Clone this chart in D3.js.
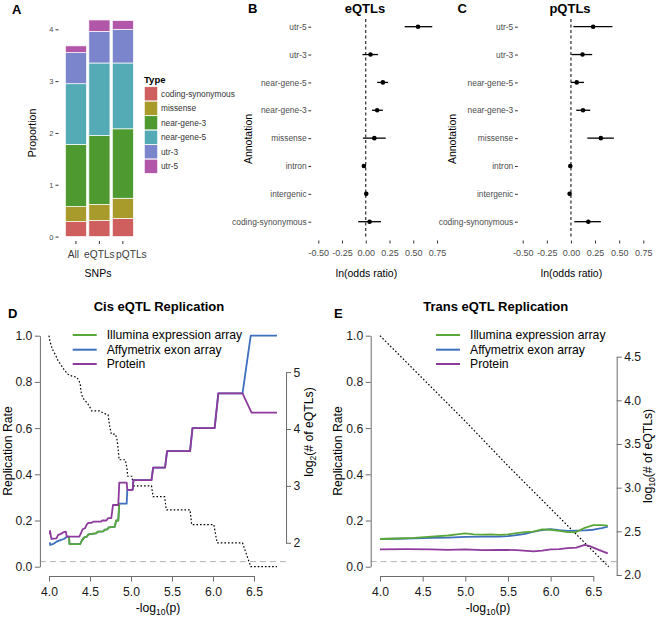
<!DOCTYPE html>
<html><head><meta charset="utf-8">
<script src="https://cdn.jsdelivr.net/npm/d3@7"></script>
<style>
html,body{margin:0;padding:0;background:#fff;}
svg{display:block;font-family:"Liberation Sans",Arial,Helvetica,sans-serif;}
</style></head><body>
<svg id="chart" width="661" height="621"></svg>
<script>
// ---------------- Panel A data ----------------
const snpGroups = ["All", "eQTLs", "pQTLs"];
const annotTypes = ["coding-synonymous", "missense", "near-gene-3", "near-gene-5", "utr-3", "utr-5"];
const propAll  = [0.29, 0.29, 1.20, 1.17, 0.60, 0.13];
const propEqtl = [0.31, 0.31, 1.33, 1.40, 0.61, 0.22];
const propPqtl = [0.35, 0.39, 1.34, 1.27, 0.65, 0.17];
const propTicks = [0, 1, 2, 3, 4];

// ---------------- Panels B / C data ----------------
const annotations = ["utr-5", "utr-3", "near-gene-5", "near-gene-3", "missense", "intron", "intergenic", "coding-synonymous"];
const eqtlEst = [0.55, 0.05, 0.18, 0.12, 0.09, -0.02, 0.005, 0.04];
const eqtlLo  = [0.41, -0.035, 0.12, 0.065, -0.03, -0.03, -0.005, -0.08];
const eqtlHi  = [0.70, 0.13, 0.235, 0.18, 0.21, -0.01, 0.015, 0.16];
const pqtlEst = [0.23, 0.12, 0.06, 0.125, 0.31, -0.007, -0.014, 0.18];
const pqtlLo  = [0.025, 0.005, 0.0, 0.055, 0.17, -0.015, -0.022, 0.035];
const pqtlHi  = [0.43, 0.22, 0.135, 0.20, 0.445, 0.0, -0.006, 0.31];
const orTicks = [-0.5, -0.25, 0, 0.25, 0.5, 0.75];
const orTickLabels = ["-0.50", "-0.25", "0.00", "0.25", "0.50", "0.75"];

// ---------------- Panel D data (x = -log10 p) ----------------
const seriesNames = ["Illumina expression array", "Affymetrix exon array", "Protein"];
const cisIllumina = [[4.244,0.13],[4.25,0.098],[4.38,0.098],[4.40,0.113],[4.43,0.127],[4.46,0.13],[4.48,0.14],[4.57,0.144],[4.60,0.152],[4.66,0.153],[4.68,0.16],[4.71,0.162],[4.73,0.17],[4.80,0.172],[4.82,0.20],[4.845,0.20],[4.857,0.273]];
const cisAffy = [[4.01,0.105],[4.015,0.094],[4.03,0.096],[4.06,0.10],[4.10,0.11],[4.14,0.115],[4.18,0.12],[4.22,0.13],[4.244,0.13],[4.25,0.098],[4.38,0.098],[4.40,0.113],[4.43,0.127],[4.46,0.13],[4.48,0.14],[4.57,0.144],[4.60,0.152],[4.66,0.153],[4.68,0.16],[4.71,0.162],[4.73,0.17],[4.80,0.172],[4.82,0.20],[4.845,0.20],[4.857,0.273],[4.947,0.273],[4.955,0.333],[5.02,0.333],[5.03,0.375],[5.25,0.375],[5.27,0.429],[5.415,0.429],[5.44,0.50],[5.72,0.50],[5.75,0.60],[6.02,0.60],[6.065,0.75],[6.36,0.75],[6.46,1.0],[6.78,1.0]];
const cisProtein = [[4.01,0.14],[4.012,0.155],[4.03,0.12],[4.09,0.123],[4.11,0.137],[4.155,0.144],[4.18,0.15],[4.205,0.152],[4.216,0.13],[4.37,0.13],[4.39,0.145],[4.41,0.162],[4.44,0.167],[4.46,0.182],[4.48,0.19],[4.52,0.19],[4.54,0.195],[4.63,0.195],[4.65,0.20],[4.70,0.20],[4.72,0.21],[4.76,0.21],[4.78,0.267],[4.845,0.267],[4.857,0.364],[4.947,0.364],[4.955,0.333],[5.02,0.333],[5.03,0.375],[5.25,0.375],[5.27,0.429],[5.415,0.429],[5.44,0.50],[5.72,0.50],[5.75,0.60],[6.02,0.60],[6.065,0.75],[6.36,0.75],[6.47,0.667],[6.78,0.667]];
const cisLog2Count = [[4.00,5.64],[4.01,5.55],[4.03,5.45],[4.05,5.38],[4.08,5.30],[4.11,5.20],[4.14,5.14],[4.17,5.07],[4.20,5.02],[4.22,4.97],[4.28,4.93],[4.34,4.91],[4.36,4.86],[4.38,4.80],[4.39,4.66],[4.41,4.55],[4.44,4.50],[4.47,4.45],[4.50,4.38],[4.52,4.32],[4.62,4.32],[4.66,4.28],[4.72,4.25],[4.74,4.05],[4.76,3.91],[4.81,3.91],[4.83,3.81],[4.84,3.70],[4.855,3.46],[4.93,3.46],[4.95,3.32],[4.96,3.17],[5.01,3.17],[5.03,3.00],[5.25,3.00],[5.27,2.81],[5.41,2.81],[5.43,2.58],[5.72,2.58],[5.74,2.32],[6.01,2.32],[6.05,2.00],[6.36,2.00],[6.46,1.58],[6.78,1.58]];
const cisCountTicks = [2, 3, 4, 5];

// ---------------- Panel E data ----------------
const transIllumina = [[4.0,0.12],[4.2,0.122],[4.4,0.125],[4.6,0.13],[4.8,0.135],[4.9,0.14],[5.0,0.144],[5.1,0.14],[5.2,0.139],[5.3,0.14],[5.4,0.138],[5.5,0.14],[5.6,0.145],[5.7,0.15],[5.8,0.152],[5.9,0.162],[6.0,0.16],[6.1,0.155],[6.2,0.15],[6.3,0.15],[6.4,0.168],[6.5,0.18],[6.6,0.18],[6.67,0.178]];
const transAffy = [[4.0,0.12],[4.2,0.121],[4.4,0.123],[4.6,0.125],[4.8,0.126],[5.0,0.129],[5.2,0.13],[5.4,0.13],[5.5,0.132],[5.6,0.137],[5.7,0.142],[5.8,0.152],[5.9,0.158],[6.0,0.163],[6.1,0.158],[6.2,0.155],[6.3,0.156],[6.4,0.157],[6.5,0.16],[6.6,0.167],[6.67,0.173]];
const transProtein = [[4.0,0.075],[4.3,0.076],[4.6,0.075],[4.8,0.073],[5.0,0.075],[5.2,0.072],[5.4,0.073],[5.6,0.072],[5.8,0.066],[5.9,0.07],[6.0,0.075],[6.1,0.076],[6.2,0.08],[6.3,0.083],[6.4,0.094],[6.45,0.09],[6.55,0.075],[6.67,0.058]];
const transLog10Count = [[4.0,4.74],[4.5,4.25],[5.0,3.76],[5.5,3.25],[6.0,2.76],[6.5,2.27],[6.68,2.095]];
const transCountTicks = [2.0, 2.5, 3.0, 3.5, 4.0, 4.5];

const rateTicks = [0, 0.2, 0.4, 0.6, 0.8, 1.0];
const pTicks = [4.0, 4.5, 5.0, 5.5, 6.0, 6.5];
const expectedRate = 0.022;

// ---------------- styles ----------------
const typeColors = ["#cf5f5e", "#a99a2c", "#4e9a31", "#55abb5", "#7a85cb", "#b156a8"];
const seriesColors = ["#5aa83a", "#3d6fbe", "#8e3a9c"];
const groupLabelShift = [-2.5, 0, 8.5];
const FONT_R = 12.2;

const svg = d3.select("#chart");
svg.append("rect").attr("width", 661).attr("height", 621).attr("fill", "#fff");

function letter(x, y, t) {
  svg.append("text").attr("x", x).attr("y", y).attr("font-size", 13).attr("font-weight", "bold").attr("fill", "#000").text(t);
}

// ================= Panel A =================
(function () {
  const g = svg.append("g");
  const xA = d3.scaleBand().domain(snpGroups).range([64.2, 134.6]).paddingInner(0.1).paddingOuter(0.05);
  const yA = d3.scaleLinear().domain([0, 4]).range([236.6, 29.3]);
  const rows = [propAll, propEqtl, propPqtl];
  const table = snpGroups.map((grp, i) => {
    const o = { group: grp };
    annotTypes.forEach((t, j) => { o[t] = rows[i][j]; });
    return o;
  });
  const stacked = d3.stack().keys(annotTypes)(table);
  g.selectAll("g.layer").data(stacked).join("g").attr("class", "layer")
    .attr("fill", (d, i) => typeColors[i])
    .selectAll("rect").data(d => d).join("rect")
    .attr("x", d => xA(d.data.group)).attr("width", xA.bandwidth())
    .attr("y", d => yA(d[1])).attr("height", d => yA(d[0]) - yA(d[1]))
    .attr("stroke", "#fff").attr("stroke-width", 0.7);

  const ay = g.append("g").attr("transform", "translate(58.5,0)")
    .call(d3.axisLeft(yA).tickValues(propTicks).tickFormat(d3.format("d")).tickSize(3).tickPadding(2));
  ay.select(".domain").remove();
  ay.selectAll("line").attr("stroke", "#333");
  ay.selectAll("text").attr("font-size", 7.5).attr("fill", "#4d4d4d").attr("font-family", null);

  const ax = g.append("g").attr("transform", "translate(0,241)")
    .call(d3.axisBottom(xA).tickSize(3).tickPadding(7));
  ax.select(".domain").remove();
  ax.selectAll("line").attr("stroke", "#333");
  ax.selectAll("text").attr("font-size", 10.2).attr("fill", "#3a3a3a").attr("font-family", null)
    .attr("x", (d, i) => groupLabelShift[i]);

  g.append("text").attr("x", 98).attr("y", 277).attr("text-anchor", "middle").attr("font-size", 10.5).text("SNPs");
  g.append("text").attr("transform", "translate(32,133) rotate(-90)").attr("text-anchor", "middle")
    .attr("dy", "0.35em").attr("font-size", 10.5).text("Proportion");

  // legend
  const lg = g.append("g");
  lg.append("text").attr("x", 144).attr("y", 82.5).attr("font-size", 9.5).attr("font-weight", "bold").text("Type");
  annotTypes.forEach((t, i) => {
    const y0 = 86.7 + i * 14.5;
    lg.append("rect").attr("x", 144.3).attr("y", y0).attr("width", 13.4).attr("height", 14.2)
      .attr("fill", typeColors[i]).attr("stroke", "#fff").attr("stroke-width", 0.7);
    lg.append("text").attr("x", 161).attr("y", y0 + 7.1).attr("dy", "0.35em")
      .attr("font-size", 8.3).attr("fill", "#333").text(t);
  });
  letter(12, 13.5, "A");
})();

// ================= Panels B / C =================
function forest(cfg) {
  const g = svg.append("g");
  const x = d3.scaleLinear().domain([-0.5, 0.75]).range(cfg.xr);
  const y = d3.scalePoint().domain(annotations).range([26.7, 221.7]);
  g.append("line").attr("x1", x(0)).attr("x2", x(0)).attr("y1", 19).attr("y2", 237.5)
    .attr("stroke", "#000").attr("stroke-width", 1).attr("stroke-dasharray", "3,2.5");
  const rows = annotations.map((a, i) => ({ a, est: cfg.est[i], lo: cfg.lo[i], hi: cfg.hi[i] }));
  g.selectAll("line.ci").data(rows).join("line").attr("class", "ci")
    .attr("x1", d => x(d.lo)).attr("x2", d => x(d.hi)).attr("y1", d => y(d.a)).attr("y2", d => y(d.a))
    .attr("stroke", "#000").attr("stroke-width", 1.3);
  g.selectAll("circle").data(rows).join("circle")
    .attr("cx", d => x(d.est)).attr("cy", d => y(d.a)).attr("r", 2.3).attr("fill", "#000");

  const ay = g.append("g").attr("transform", `translate(${cfg.yAxisX},0)`)
    .call(d3.axisLeft(y).tickSize(2.8).tickPadding(1.8));
  ay.select(".domain").remove();
  ay.selectAll("line").attr("stroke", "#333");
  ay.selectAll("text").attr("font-size", 8.4).attr("fill", "#4d4d4d").attr("font-family", null);

  const ax = g.append("g").attr("transform", "translate(0,240.5)")
    .call(d3.axisBottom(x).tickValues(orTicks).tickFormat((d, i) => orTickLabels[i]).tickSize(3).tickPadding(6.5));
  ax.select(".domain").remove();
  ax.selectAll("line").attr("stroke", "#333");
  ax.selectAll("text").attr("font-size", 9).attr("fill", "#4d4d4d").attr("font-family", null);

  g.append("text").attr("x", cfg.xTitleX).attr("y", 277).attr("text-anchor", "middle").attr("font-size", 10.5).text("ln(odds ratio)");
  g.append("text").attr("transform", `translate(${cfg.annX},139) rotate(-90)`).attr("text-anchor", "middle")
    .attr("dy", "0.35em").attr("font-size", 10.5).text("Annotation");
  g.append("text").attr("x", cfg.titleX).attr("y", 12.5).attr("text-anchor", "middle")
    .attr("font-size", 13).attr("font-weight", "bold").text(cfg.title);
  letter(cfg.letterX, 12.5, cfg.letter);
}
forest({ est: eqtlEst, lo: eqtlLo, hi: eqtlHi, xr: [318.3, 437], yAxisX: 311.2, xTitleX: 366.5,
  annX: 248.5, titleX: 365, title: "eQTLs", letterX: 248, letter: "B" });
forest({ est: pqtlEst, lo: pqtlLo, hi: pqtlHi, xr: [522.7, 643.3], yAxisX: 517.8, xTitleX: 571.5,
  annX: 452.5, titleX: 570, title: "pQTLs", letterX: 457.5, letter: "C" });

// ================= Panels D / E =================
function replication(cfg) {
  const g = svg.append("g");
  const x = d3.scaleLinear().domain([4, 6.5]).range(cfg.xr);
  const y = d3.scaleLinear().domain([0, 1]).range([566.7, 335.7]);
  const yc = d3.scaleLinear().domain(d3.extent(cfg.count, d => d[1])).range([566.7, 335.7]);
  const axL = x(cfg.usr[0]), axR = x(cfg.usr[1]);

  g.append("line").attr("x1", axL).attr("x2", axR).attr("y1", y(expectedRate)).attr("y2", y(expectedRate))
    .attr("stroke", "#b3b3b3").attr("stroke-width", 1).attr("stroke-dasharray", "6,4");

  const line = d3.line().x(d => x(d[0])).y(d => y(d[1]));
  const lineC = d3.line().x(d => x(d[0])).y(d => yc(d[1]));
  g.append("path").attr("d", lineC(cfg.count)).attr("fill", "none").attr("stroke", "#000")
    .attr("stroke-width", 1.2).attr("stroke-dasharray", "1.6,2");

  cfg.order.forEach(k => {
    g.append("path").attr("d", line(cfg.series[k])).attr("fill", "none")
      .attr("stroke", seriesColors[k]).attr("stroke-width", 1.8).attr("stroke-linejoin", "round");
  });

  const styleAxis = (a) => {
    a.select(".domain").attr("stroke", "#6b6b6b");
    a.selectAll("line").attr("stroke", "#6b6b6b");
    a.selectAll("text").attr("font-size", FONT_R).attr("fill", "#1a1a1a").attr("font-family", null);
  };
  const fmt1 = d3.format(".1f");
  styleAxis(g.append("g").attr("transform", `translate(${axL},0)`)
    .call(d3.axisLeft(y).tickValues(rateTicks).tickFormat(fmt1).tickSize(5).tickPadding(2.5).tickSizeOuter(0)));
  styleAxis(g.append("g").attr("transform", "translate(0,576)")
    .call(d3.axisBottom(x).tickValues(pTicks).tickFormat(fmt1).tickSize(5.5).tickPadding(6.3).tickSizeOuter(0)));
  const ct = cfg.countTicks;
  const yr = d3.scaleLinear().domain([ct[0], ct[ct.length - 1]]).range([yc(ct[0]), yc(ct[ct.length - 1])]);
  styleAxis(g.append("g").attr("transform", `translate(${axR},0)`)
    .call(d3.axisRight(yr).tickValues(ct).tickFormat(cfg.countFmt).tickSize(5).tickPadding(2.5).tickSizeOuter(0)));

  g.append("text").attr("x", cfg.titleX).attr("y", 311).attr("text-anchor", "middle")
    .attr("font-size", 13).attr("font-weight", "bold").text(cfg.title);
  g.append("text").attr("transform", `translate(${cfg.leftTitleX},451) rotate(-90)`).attr("text-anchor", "middle")
    .attr("dy", "0.35em").attr("font-size", FONT_R).text("Replication Rate");
  const xt = g.append("text").attr("x", cfg.xTitleX).attr("y", 612).attr("text-anchor", "middle").attr("font-size", FONT_R);
  xt.append("tspan").text("-log");
  xt.append("tspan").attr("font-size", 8.5).attr("dy", 3).text("10");
  xt.append("tspan").attr("dy", -3).text("(p)");
  const rt = g.append("text").attr("transform", `translate(${cfg.rightTitleX},${cfg.rightTitleY}) rotate(-90)`)
    .attr("text-anchor", "middle").attr("font-size", FONT_R);
  rt.append("tspan").text("log");
  rt.append("tspan").attr("font-size", 8.5).attr("dy", 3).text(cfg.logBase);
  rt.append("tspan").attr("dy", -3).text("(# of eQTLs)");

  seriesNames.forEach((s, i) => {
    const yy = [335, 349.7, 364][i];
    g.append("line").attr("x1", cfg.legX).attr("x2", cfg.legX + 24).attr("y1", yy).attr("y2", yy)
      .attr("stroke", seriesColors[i]).attr("stroke-width", 2);
    g.append("text").attr("x", cfg.legX + 34).attr("y", yy).attr("dy", "0.35em").attr("font-size", FONT_R).text(s);
  });
  letter(cfg.letterX, 318, cfg.letter);
}
replication({ xr: [49, 254], usr: [3.889, 6.891], count: cisLog2Count, countTicks: cisCountTicks,
  countFmt: d3.format("d"), series: [cisIllumina, cisAffy, cisProtein], order: [1, 0, 2],
  title: "Cis eQTL Replication", titleX: 159, leftTitleX: 7.5, xTitleX: 158, rightTitleX: 313, rightTitleY: 432,
  logBase: "2", legX: 72.7, letter: "D", letterX: 8 });
replication({ xr: [380, 593.3], usr: [3.891, 6.774], count: transLog10Count, countTicks: transCountTicks,
  countFmt: d3.format(".1f"), series: [transIllumina, transAffy, transProtein], order: [1, 0, 2],
  title: "Trans eQTL Replication", titleX: 495.7, leftTitleX: 337.5, xTitleX: 488, rightTitleX: 651.5, rightTitleY: 456,
  logBase: "10", legX: 436, letter: "E", letterX: 334 });
</script></body></html>
